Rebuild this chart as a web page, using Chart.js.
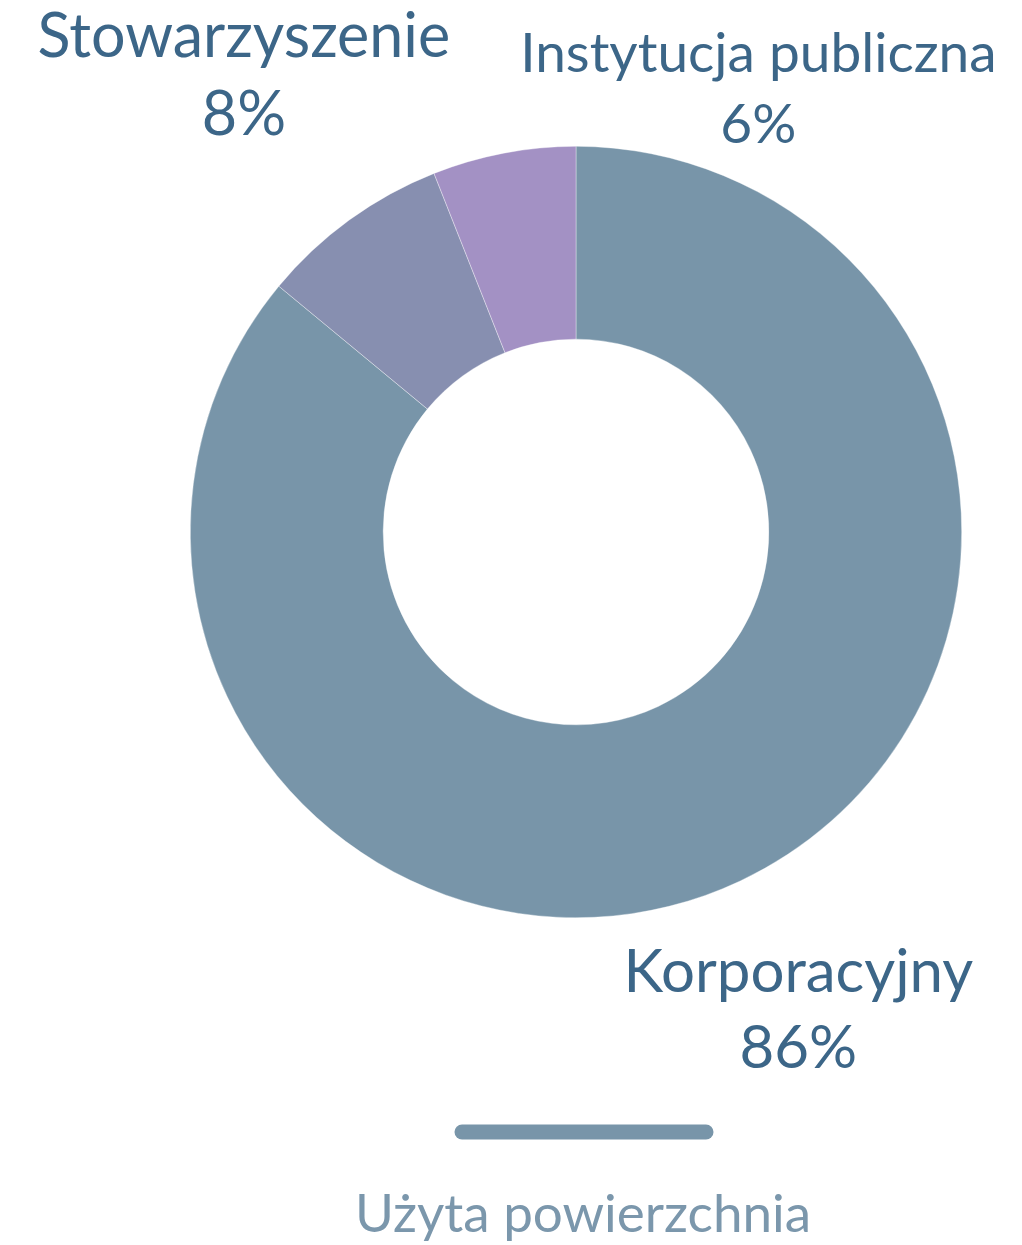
<!DOCTYPE html>
<html>
<head>
<meta charset="utf-8">
<script src="https://cdn.jsdelivr.net/npm/chart.js@4.4.1/dist/chart.umd.min.js"></script>
<style>
  html, body { margin: 0; padding: 0; background: #ffffff; }
  #wrap { position: relative; width: 1022px; height: 1245px; }
  canvas { display: block; }
</style>
</head>
<body>
<div id="wrap"><canvas id="c" width="1022" height="1245"></canvas></div>
<script>
// ---- data ----
const categories = ["Korporacyjny", "Stowarzyszenie", "Instytucja publiczna"];
const shares = [86, 8, 6];
const sliceColors = ["#7895a9", "#878fb0", "#a391c4"];
const seriesName = "Użyta powierzchnia";

// label layout: centre x and first-line baseline relative to the doughnut
// centre, in units of the outer radius; font size in px (layout only)
const labelLayout = [
  { dx: 0.5764, dy: 1.1917, size: 60 },
  { dx: -0.861, dy: -1.2306, size: 61 },
  { dx: 0.4728, dy: -1.1917, size: 55 }
];

const TEXT_COLOR = "#3c6688";
const LEGEND_TEXT_COLOR = "#7b97ac";
const FONT = "Lato, 'Noto Sans', sans-serif";

const outerLabels = {
  id: "outerLabels",
  afterDatasetsDraw(chart) {
    const ctx = chart.ctx;
    const meta = chart.getDatasetMeta(0);
    const total = shares.reduce((a, b) => a + b, 0);
    meta.data.forEach((arc, i) => {
      const p = arc.getProps(["x", "y", "outerRadius"], true);
      const r = p.outerRadius;
      const L = labelLayout[i];
      const cx = p.x + L.dx * r;
      const by = p.y + L.dy * r;
      ctx.save();
      ctx.fillStyle = TEXT_COLOR;
      ctx.textAlign = "center";
      ctx.textBaseline = "alphabetic";
      ctx.font = L.size + "px " + FONT;
      ctx.fillText(categories[i], cx, by);
      const pct = Math.round(shares[i] / total * 100) + "%";
      ctx.fillText(pct, cx, by + L.size * 1.28);
      ctx.restore();
    });
  },
  afterDraw(chart) {
    // legend: line swatch + series name
    const ctx = chart.ctx;
    const arc = chart.getDatasetMeta(0).data[0];
    const cx = arc.x;
    const y0 = 1132;
    ctx.save();
    ctx.strokeStyle = sliceColors[0];
    ctx.lineWidth = 15;
    ctx.lineCap = "round";
    ctx.beginPath();
    ctx.moveTo(cx - 114, y0);
    ctx.lineTo(cx + 130, y0);
    ctx.stroke();
    ctx.fillStyle = LEGEND_TEXT_COLOR;
    ctx.font = "53px " + FONT;
    ctx.textAlign = "center";
    ctx.textBaseline = "alphabetic";
    ctx.fillText(seriesName, cx + 7, 1232);
    ctx.restore();
  }
};

new Chart(document.getElementById("c"), {
  type: "doughnut",
  data: {
    labels: categories,
    datasets: [{
      label: seriesName,
      data: shares,
      backgroundColor: sliceColors,
      borderColor: "rgba(255,255,255,0.6)",
      borderWidth: 0.6,
      hoverOffset: 0
    }]
  },
  options: {
    responsive: false,
    animation: false,
    cutout: "50%",
    layout: { padding: { left: 190, right: 60, top: 146, bottom: 327 } },
    plugins: {
      legend: { display: false },
      tooltip: { enabled: false }
    }
  },
  plugins: [outerLabels]
});
</script>
</body>
</html>
